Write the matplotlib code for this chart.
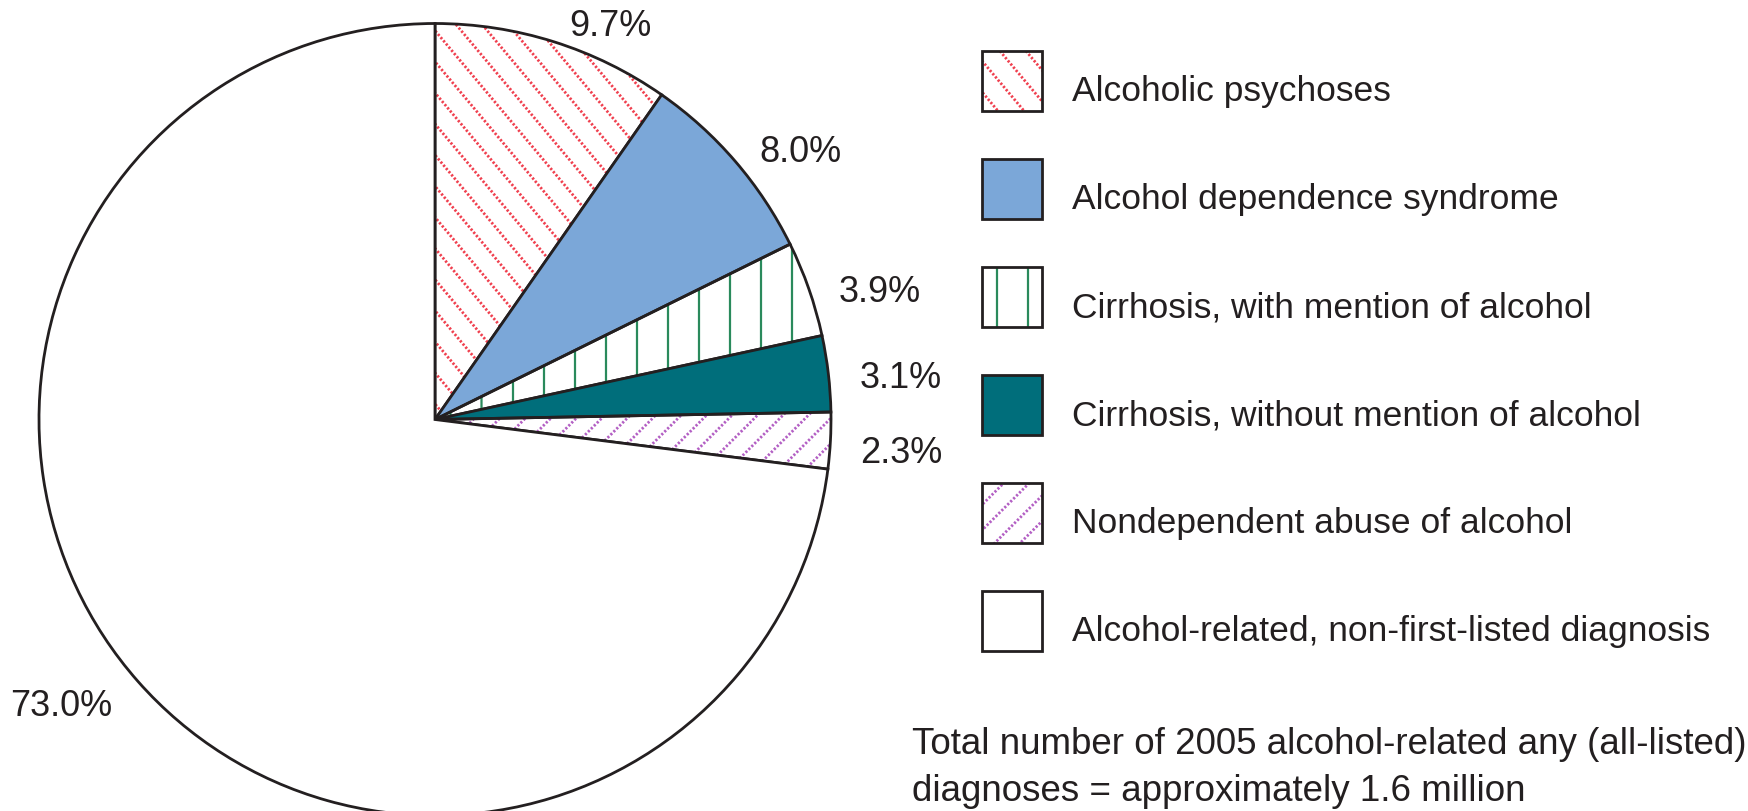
import numpy as np
import matplotlib
matplotlib.use('Agg')
import matplotlib.pyplot as plt
from matplotlib.patches import Rectangle

plt.rcParams['font.family'] = ['Liberation Sans', 'DejaVu Sans']

# data
categories = ['Alcoholic psychoses',
              'Alcohol dependence syndrome',
              'Cirrhosis, with mention of alcohol',
              'Cirrhosis, without mention of alcohol',
              'Nondependent abuse of alcohol',
              'Alcohol-related, non-first-listed diagnosis']
shares = [9.7, 8.0, 3.9, 3.1, 2.3, 73.0]
pct_labels = ['9.7%', '8.0%', '3.9%', '3.1%', '2.3%', '73.0%']
note = ['Total number of 2005 alcohol-related any (all-listed)',
        'diagnoses = approximately 1.6 million']

W, H = 1748, 812
EDGE = '#231f20'
# (face, hatch kind, hatch colour)
styles = [('none', 'back', '#f0404f'),
          ('#7ba7d8', None, None),
          ('none', 'vert', '#2a8a5c'),
          ('#006e7b', None, None),
          ('none', 'fwd', '#b35fc4'),
          ('white', None, None)]

fig = plt.figure(figsize=(W / 100, H / 100), dpi=100)
ax = fig.add_axes([0, 0, 1, 1])


def add_hatch(patch, cx, cy, size, kind, color):
    # draw parallel lines clipped to a patch
    if kind == 'vert':
        ang, step, ls, lw = 90, 31, '-', 1.6
    elif kind == 'back':
        ang, step, ls, lw = -50, 20, (0, (0.8, 0.7)), 2.0
    else:
        ang, step, ls, lw = 45, 18, (0, (0.8, 0.7)), 2.0
    t = np.deg2rad(ang)
    d = np.array([np.cos(t), np.sin(t)])
    n = np.array([-d[1], d[0]])
    nk = int(size / step) + 1
    for k in range(-nk, nk):
        off = (k + 0.5) * step
        p = np.array([cx, cy]) + n * off
        a = p - d * size
        b = p + d * size
        ln, = ax.plot([a[0], b[0]], [a[1], b[1]], color=color, lw=lw,
                      linestyle=ls, zorder=0.5, solid_capstyle='butt')
        ln.set_clip_path(patch)


cx, cy, R = 435, H - 420.5, 396
wedges, _ = ax.pie(shares, startangle=90, counterclock=False,
                   colors=[s[0] for s in styles], radius=R, center=(cx, cy),
                   wedgeprops=dict(edgecolor=EDGE, linewidth=2.0), frame=True)
for w, (face, kind, hc) in zip(wedges, styles):
    w.set_facecolor(face)
    w.set_zorder(1)
    if kind:
        add_hatch(w, cx, cy, R * 1.5, kind, hc)

# percentage labels
label_pos = [(610, 26), (800, 153), (880, 292), (901, 379), (901, 454), (61, 707)]
for txt, (x, y) in zip(pct_labels, label_pos):
    ax.text(x, H - y, txt, fontsize=26, ha='center', va='center', color=EDGE)

# legend
bx, bs, top0, gap = 982, 60, 52, 108
for i, (name, (face, kind, hc)) in enumerate(zip(categories, styles)):
    top = top0 + i * gap
    y0 = H - top - bs
    r = Rectangle((bx, y0), bs, bs, facecolor=face, edgecolor=EDGE,
                  linewidth=2.0, zorder=1)
    ax.add_patch(r)
    if kind:
        add_hatch(r, bx + bs / 2, y0 + bs / 2, bs, kind, hc)
    ax.text(1072, H - (top + 49.5), name, fontsize=25.5, ha='left',
            va='baseline', color=EDGE)

ax.text(912, H - 745, note[0], fontsize=26.5, ha='left', va='center', color=EDGE)
ax.text(912, H - 792, note[1], fontsize=26.5, ha='left', va='center', color=EDGE)

ax.set_xlim(0, W)
ax.set_ylim(0, H)
ax.set_aspect('auto')
ax.axis('off')

fig.savefig('out.png', dpi=100, facecolor='white')
